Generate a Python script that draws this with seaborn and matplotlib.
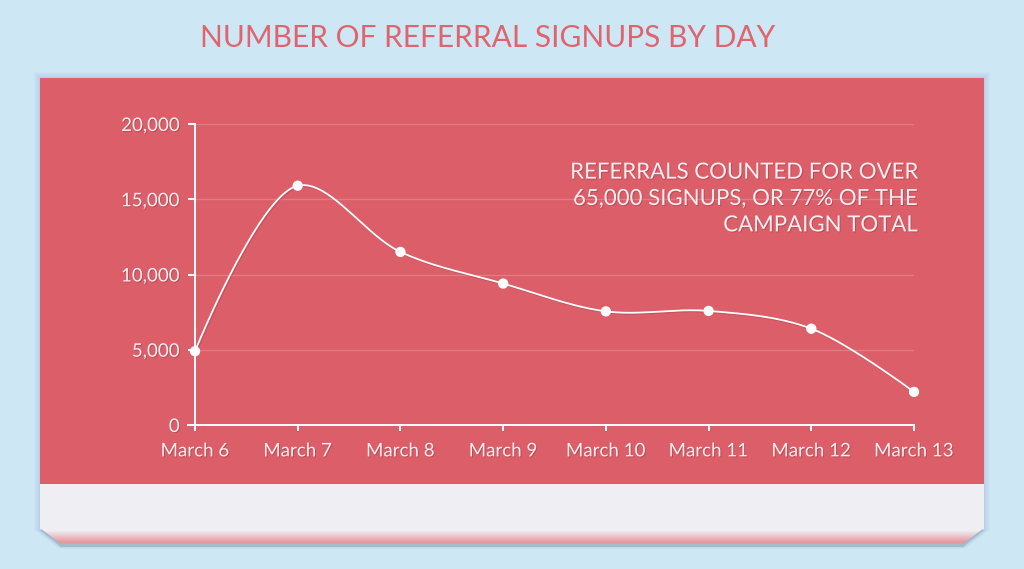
import numpy as np
import pandas as pd
import matplotlib
matplotlib.use("Agg")
import matplotlib.pyplot as plt
import matplotlib.patheffects as pe
from matplotlib.patches import Polygon
from matplotlib.colors import to_rgb
import seaborn as sns

# chart data
days = ["March 6", "March 7", "March 8", "March 9", "March 10", "March 11", "March 12", "March 13"]
signups = [4900, 15900, 11500, 9400, 7550, 7580, 6400, 2200]
y_ticks = [0, 5000, 10000, 15000, 20000]
y_tick_labels = ["0", "5,000", "10,000", "15,000", "20,000"]
title = "NUMBER OF REFERRAL SIGNUPS BY DAY"
note = "REFERRALS COUNTED FOR OVER\n65,000 SIGNUPS, OR 77% OF THE\nCAMPAIGN TOTAL"

BG = "#cde8f4"
RED = "#db5e69"
GREY = "#efeff3"
TXT = "#fbeef0"

W, H = 1024, 569


def fx(px):
    return px / W


def fy(py):
    return 1 - py / H


def catmull_rom(pts, n=40, alpha=0.5):
    # centripetal catmull-rom (d3 style), pts in pixel space
    pts = np.asarray(pts, float)
    ext = np.vstack([pts[:1], pts, pts[-1:]])
    t = np.linspace(0, 1, n)[:, None]
    segs = []
    for i in range(1, len(ext) - 2):
        p0, p1, p2, p3 = ext[i - 1], ext[i], ext[i + 1], ext[i + 2]
        l01 = np.hypot(*(p1 - p0)) ** alpha
        l12 = np.hypot(*(p2 - p1)) ** alpha
        l23 = np.hypot(*(p3 - p2)) ** alpha
        c1, c2 = p1.copy(), p2.copy()
        if l01 > 1e-9:
            a = 2 * l01 ** 2 + 3 * l01 * l12 + l12 ** 2
            nn = 3 * l01 * (l01 + l12)
            c1 = (p1 * a - p0 * l12 ** 2 + p2 * l01 ** 2) / nn
        if l23 > 1e-9:
            b = 2 * l23 ** 2 + 3 * l23 * l12 + l12 ** 2
            m = 3 * l23 * (l23 + l12)
            c2 = (p2 * b + p1 * l23 ** 2 - p3 * l12 ** 2) / m
        segs.append((1 - t) ** 3 * p1 + 3 * (1 - t) ** 2 * t * c1 + 3 * (1 - t) * t ** 2 * c2 + t ** 3 * p2)
    return np.vstack(segs)


sns.set_theme(style="white")
plt.rcParams["font.family"] = ["Lato", "DejaVu Sans"]

fig = plt.figure(figsize=(10.24, 5.69), dpi=100)
fig.patch.set_facecolor(BG)


def card(poly, color, z, alpha=1.0):
    fig.patches.append(Polygon([(fx(a), fy(b)) for a, b in poly], closed=True,
                               transform=fig.transFigure, facecolor=color, alpha=alpha,
                               edgecolor="none", linewidth=0, zorder=z))


# soft shadow behind the card
for k in range(1, 7):
    card([(40 - k, 78 - k), (984 + k, 78 - k), (984 + k, 530), (964, 546 + k * 0.5),
          (60, 546 + k * 0.5), (40 - k, 530)], "#8f98d0", 0, alpha=0.05)
# bevelled lip: blue-grey edge, then grey->pink gradient
card([(40, 530), (984, 530), (963, 547), (61, 547)], "#a3bccb", 1)
c_top, c_bot = np.array(to_rgb(GREY)), np.array(to_rgb("#e69ba1"))
for yy in range(528, 544):
    f = min(1.0, max(0.0, (yy - 530) / 11))
    col = c_top * (1 - f) + c_bot * f
    d0, d1 = (yy - 528) * 1.35, (yy + 1 - 528) * 1.35
    card([(40 + d0, yy), (984 - d0, yy), (984 - d1, yy + 1.05), (40 + d1, yy + 1.05)], col, 2)
card([(40, 484), (984, 484), (984, 529), (40, 529)], GREY, 3)
card([(40, 78), (984, 78), (984, 484), (40, 484)], RED, 4)

fig.text(fx(488), fy(38), title, ha="center", va="center", color="#e0636e",
         fontsize=21.5)

ax = fig.add_axes([fx(195), fy(425), fx(914) - fx(195), fy(124) - fy(425)])
ax.set_facecolor("none")
ax.set_zorder(10)
ax.set_xlim(0, len(days) - 1)
ax.set_ylim(0, 20000)

x = np.arange(len(days))
# smooth the line in screen space, then map back to data units
disp = ax.transData.transform(np.column_stack([x, signups]))
smooth = ax.transData.inverted().transform(catmull_rom(disp))
curve = pd.DataFrame({"x": smooth[:, 0], "y": smooth[:, 1]})
pts = pd.DataFrame({"day": x, "signups": signups})

shadow = [pe.SimpleLineShadow(offset=(0.8, -0.8), shadow_color="#8a2a35", alpha=0.25), pe.Normal()]
sns.lineplot(data=curve, x="x", y="y", ax=ax, color="white", linewidth=1.3,
             sort=False, estimator=None, clip_on=False, path_effects=shadow)
sns.scatterplot(data=pts, x="day", y="signups", ax=ax, color="white", s=55,
                edgecolor="none", clip_on=False, zorder=5)

ax.set_xlim(0, len(days) - 1)
ax.set_ylim(0, 20000)
ax.set_xticks(x)
ax.set_xticklabels(days)
ax.set_yticks(y_ticks)
ax.set_yticklabels(y_tick_labels)
ax.set_xlabel("")
ax.set_ylabel("")

for v in y_ticks[1:]:
    ax.axhline(v, color="white", alpha=0.18, linewidth=1, zorder=0)

for s in ["top", "right"]:
    ax.spines[s].set_visible(False)
for s in ["left", "bottom"]:
    ax.spines[s].set_color("white")
    ax.spines[s].set_linewidth(1.4)
ax.spines["bottom"].set_bounds(-0.07, len(days) - 1)

ax.tick_params(axis="both", which="both", colors="white", width=1.4, labelcolor=TXT, labelsize=13.5)
ax.tick_params(axis="y", left=True, length=5, pad=6)
ax.tick_params(axis="x", bottom=True, length=4.5, pad=8)
txt_shadow = [pe.withSimplePatchShadow(offset=(0.7, -0.7), shadow_rgbFace="#7a2a33", alpha=0.35)]
for lab in ax.get_xticklabels() + ax.get_yticklabels():
    lab.set_path_effects(txt_shadow)

fig.text(fx(918), fy(199), note, ha="right", va="center", color=TXT, fontsize=16,
         linespacing=1.4, path_effects=txt_shadow, zorder=11)

fig.savefig("out.png", dpi=100, facecolor=BG)
